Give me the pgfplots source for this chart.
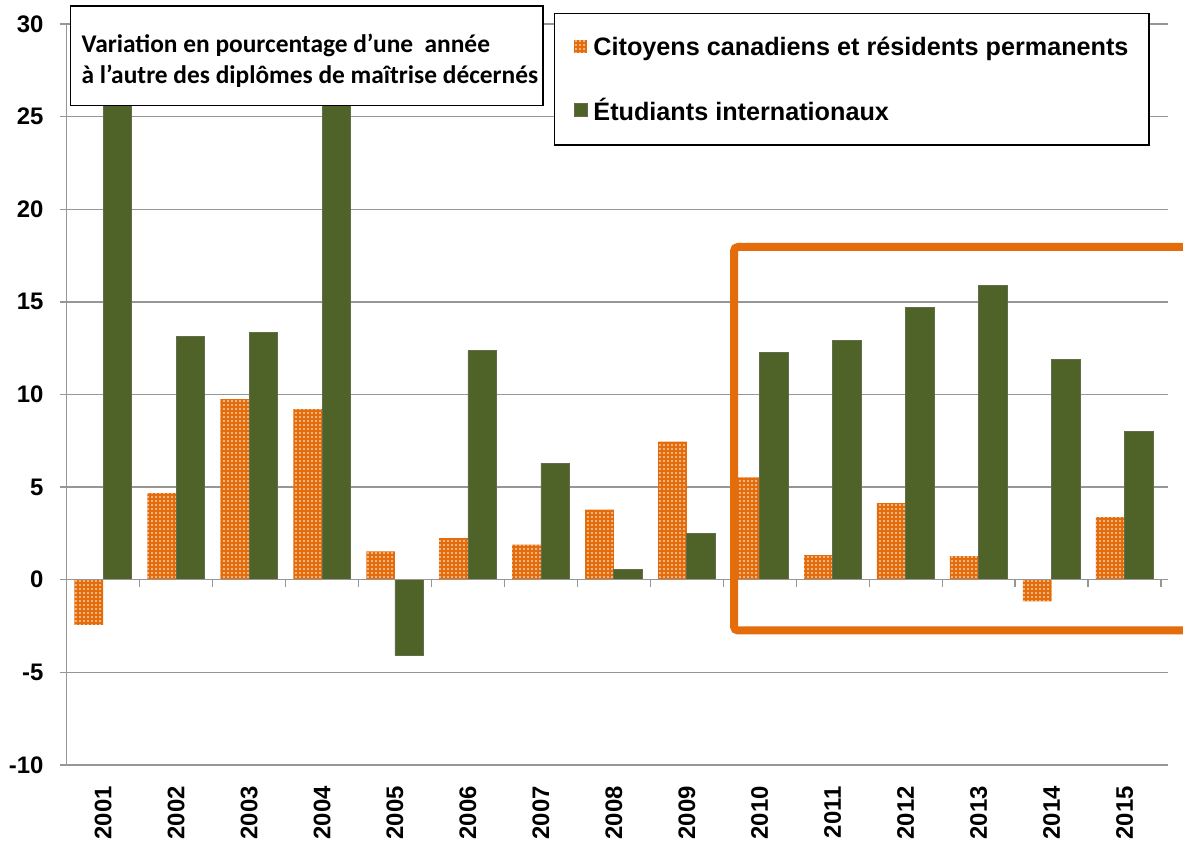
\documentclass[border=0pt]{standalone}
\usepackage{fontspec}
\setmainfont{Liberation Sans}
\newfontfamily\calibri{Carlito}
\usepackage{pgfplots}
\pgfplotsset{compat=1.18}
\usetikzlibrary{patterns}
\definecolor{cOrange}{HTML}{E46C0A}
\definecolor{cGreen}{HTML}{4F6228}
\definecolor{cGrid}{HTML}{969696}

\pgfdeclarepatternformonly{smalldots}{\pgfqpoint{-1bp}{-1bp}}{\pgfqpoint{3bp}{3bp}}{\pgfqpoint{4bp}{4bp}}{%
  \pgfpathcircle{\pgfqpoint{0bp}{0bp}}{0.9bp}%
  \pgfusepath{fill}%
}

\pgfplotstableread{
x y
0 -2.43
1 4.68
2 9.75
3 9.21
4 1.53
5 2.25
6 1.89
7 3.78
8 7.45
9 5.52
10 1.33
11 4.14
12 1.28
13 -1.17
14 3.38
}\citoyens
\pgfplotstableread{
x y
0 32
1 13.11
2 13.35
3 32
4 -4.08
5 12.36
6 6.30
7 0.58
8 2.48
9 12.25
10 12.90
11 14.68
12 15.88
13 11.89
14 8.02
}\internationaux

\begin{document}
\begin{tikzpicture}
\begin{axis}[
  at={(66.7bp,76bp)}, anchor=south west,
  scale only axis, width=1094.3bp, height=741bp,
  xmin=-0.5, xmax=14.5, ymin=-10, ymax=30,
  ybar=0pt, bar width=28.7bp,
  clip mode=individual,
  axis line style={draw=none},
  xtick={0,...,14},
  xticklabels={2001,2002,2003,2004,2005,2006,2007,2008,2009,2010,2011,2012,2013,2014,2015},
  x tick style={draw=none},
  xticklabel style={rotate=90, anchor=east, inner sep=0pt, font=\fontsize{24}{28}\selectfont\bfseries},
  xticklabel shift=14bp,
  ytick={-10,-5,...,30},
  yticklabels={-10,-5,0,5,10,15,20,25,30},
  yticklabel style={anchor=east, inner sep=0pt, font=\fontsize{24}{28}\selectfont\bfseries},
  yticklabel shift=16bp,
  y tick style={draw=cGrid, line width=1.3bp},
  tick align=outside, major tick length=7bp,
  ymajorgrids, grid style={cGrid, line width=1.3bp},
  legend style={at={(axis description cs:0.4453,1.0148)}, anchor=north west,
    draw=black, line width=1.3bp, fill=white,
    inner xsep=19bp, inner ysep=21.5bp, row sep=38.5bp, column sep=4.5bp,
    nodes={inner sep=1.5bp},
    font=\fontsize{25.3}{30}\selectfont\bfseries},
  legend cell align=left,
  legend image code/.code={\fill[#1] (0bp,-6.5bp) rectangle (13bp,6.5bp);},
]
\addplot[fill=cOrange, draw=none, postaction={pattern=smalldots, pattern color=white}] table[x=x,y=y] {\citoyens};
\addlegendentry{Citoyens canadiens et résidents permanents}
\addplot[fill=cGreen, draw=cGreen!60!gray, line width=0.8bp] table[x=x,y=y] {\internationaux};
\addlegendentry{Étudiants internationaux}
\draw[cGrid, line width=1.3bp] (axis cs:-0.5,-10) -- (axis cs:-0.5,30);
\draw[cGrid, line width=1.3bp] (axis cs:-0.5,0) -- (axis cs:14.5,0);
\pgfplotsinvokeforeach{0.5,1.5,2.5,3.5,4.5,5.5,6.5,7.5,8.5,9.5,10.5,11.5,12.5,13.5,14.5}{
  \draw[cGrid, line width=1.3bp] (axis cs:#1,0) -- ++(0pt,-7bp);
}
\end{axis}
% title box
\draw[black, line width=1.3bp, fill=white] (70.7bp,735.3bp) rectangle (543bp,835bp);
\node[anchor=base west, inner sep=0pt, font=\calibri\bfseries\fontsize{25.5}{30}\selectfont] at (81.5bp,788bp) {Variation en pourcentage d’une\ \ année};
\node[anchor=base west, inner sep=0pt, font=\calibri\bfseries\fontsize{25.5}{30}\selectfont] at (81.5bp,757bp) {à l’autre des diplômes de maîtrise décernés};
% highlight frame
\draw[cOrange, line width=8bp, rounded corners=4bp] (1200bp,594bp) -- (734bp,594bp) -- (734bp,210.5bp) -- (1200bp,210.5bp);
\pgfresetboundingbox
\path[use as bounding box] (0bp,0bp) rectangle (1183bp,841bp);
\end{tikzpicture}
\end{document}
